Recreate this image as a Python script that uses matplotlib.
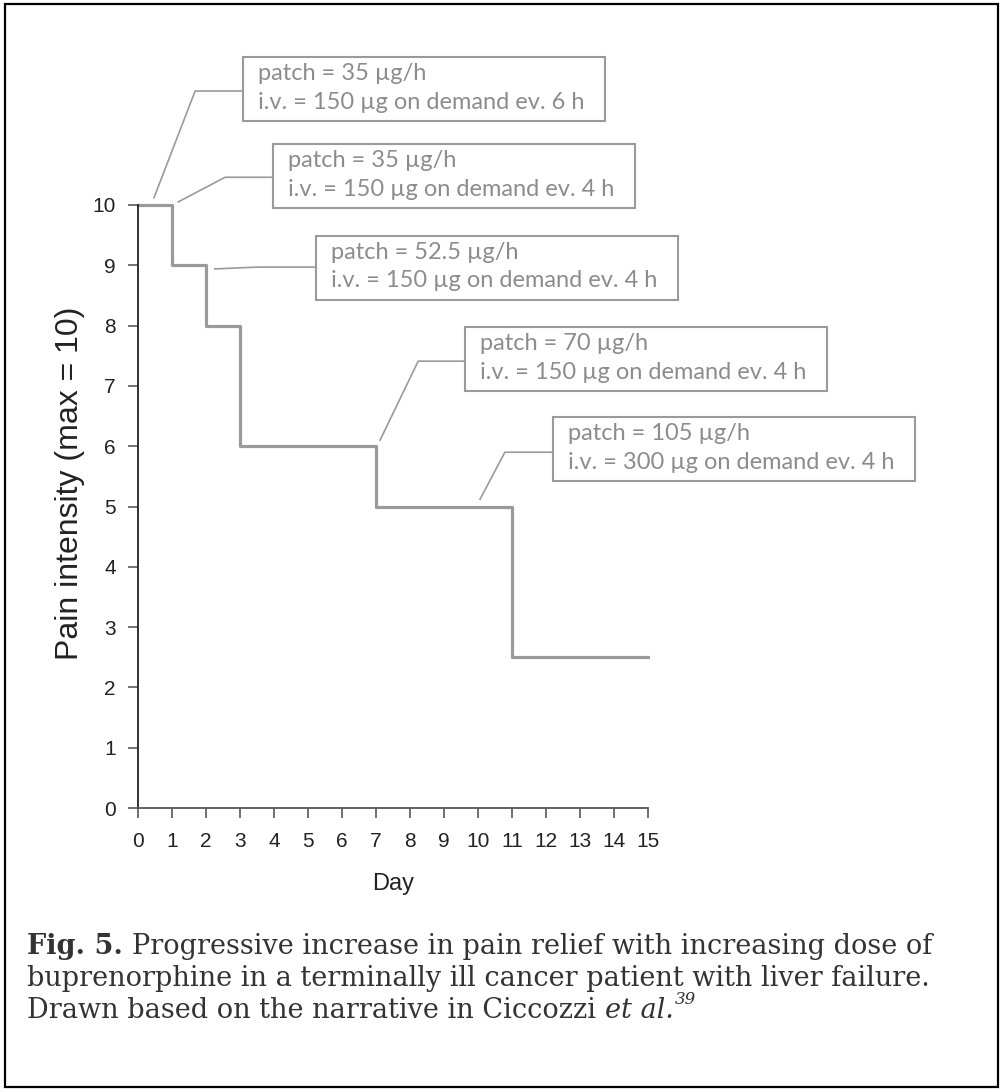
import matplotlib
matplotlib.use("Agg")
import matplotlib.pyplot as plt
from matplotlib.patches import Rectangle

# step data: pain score per day
days = [0, 1, 2, 3, 7, 11, 15]
pain = [10, 9, 8, 6, 5, 2.5, 2.5]

# dose notes, box corner (day, value) and leader line points
notes = [
    ["patch = 35 \u00b5g/h", "i.v. = 150 \u00b5g on demand ev. 6 h"],
    ["patch = 35 \u00b5g/h", "i.v. = 150 \u00b5g on demand ev. 4 h"],
    ["patch = 52.5 \u00b5g/h", "i.v. = 150 \u00b5g on demand ev. 4 h"],
    ["patch = 70 \u00b5g/h", "i.v. = 150 \u00b5g on demand ev. 4 h"],
    ["patch = 105 \u00b5g/h", "i.v. = 300 \u00b5g on demand ev. 4 h"],
]
box_x = [3.09, 3.97, 5.24, 9.62, 12.21]
box_top = [12.45, 11.01, 9.49, 7.98, 6.48]
leader_x = [[0.47, 1.68, 3.09], [1.18, 2.56, 3.97], [2.26, 3.5, 5.24],
            [7.12, 8.24, 9.62], [10.06, 10.79, 12.21]]
leader_y = [[10.12, 11.89, 11.89], [10.05, 10.46, 10.46], [8.94, 8.97, 8.97],
            [6.10, 7.41, 7.41], [5.12, 5.90, 5.90]]

W, H = 1002, 1091
fig = plt.figure(figsize=(W / 100, H / 100), dpi=100)

# outer frame
fig.add_artist(Rectangle((5 / W, 4 / H), 993 / W, 1083 / H, transform=fig.transFigure,
                         fill=False, edgecolor="black", linewidth=1.6))

ax = fig.add_axes([138 / W, 1 - 808 / H, 510 / W, 603 / H])
ax.step(days, pain, where="post", color="#9a9a9a", linewidth=2.3, clip_on=False)
ax.set_xlim(0, 15)
ax.set_ylim(0, 10)
ax.set_xticks(range(16))
ax.set_yticks(range(11))
for s in ["top", "right"]:
    ax.spines[s].set_visible(False)
ax.spines["left"].set_color("#222222")
ax.spines["bottom"].set_color("#555555")
ax.spines["left"].set_linewidth(1.3)
ax.spines["bottom"].set_linewidth(1.3)
ax.tick_params(length=7, width=1.3, color="#666666", labelsize=15, labelcolor="#222222")
ax.tick_params(axis="y", pad=9)
ax.tick_params(axis="x", pad=10)
for lab in ax.get_xticklabels() + ax.get_yticklabels():
    lab.set_fontfamily("Liberation Sans")
ax.set_xlabel("Day", fontsize=17, family="Liberation Sans", color="#222222", va="center")
ax.xaxis.set_label_coords(0.5, -(884 - 808) / 603)
ax.set_ylabel("Pain intensity (max = 10)", fontsize=23, family="Liberation Sans",
              color="#222222", va="center")
ax.yaxis.set_label_coords(-(138 - 70) / 510, (808 - 483) / 603)

bw, bh = 362 / 34, 64 / 60.3
for i in range(len(notes)):
    ax.plot(leader_x[i], leader_y[i], color="#9a9a9a", linewidth=1.2, clip_on=False)
    ax.add_patch(Rectangle((box_x[i], box_top[i] - bh), bw, bh, fill=False,
                           edgecolor="#9a9a9a", linewidth=1.5, clip_on=False))
    ax.text(box_x[i] + 0.44, box_top[i] - 0.27, notes[i][0], fontsize=17, family="Lato",
            color="#8c8c8c", va="center", clip_on=False)
    ax.text(box_x[i] + 0.44, box_top[i] - 0.75, notes[i][1], fontsize=17, family="Lato",
            color="#8c8c8c", va="center", clip_on=False)

# caption
cap = dict(fontsize=19.5, family="DejaVu Serif", color="#333333", va="center")
fig.text(27 / W, 1 - 947 / H, "Fig. 5.", weight="bold", **cap)
fig.canvas.draw()
x0 = fig.texts[-1].get_window_extent().x1 + 9
fig.text(x0 / W, 1 - 947 / H, "Progressive increase in pain relief with increasing dose of", **cap)
fig.text(27 / W, 1 - 979 / H, "buprenorphine in a terminally ill cancer patient with liver failure.", **cap)
t = fig.text(27 / W, 1 - 1011 / H, "Drawn based on the narrative in Ciccozzi ", **cap)
fig.canvas.draw()
bb = t.get_window_extent()
t2 = fig.text(bb.x1 / W, 1 - 1011 / H, "et al.", style="italic", **cap)
fig.canvas.draw()
bb2 = t2.get_window_extent()
fig.text(bb2.x1 / W + 1 / W, 1 - 1000 / H, "39", fontsize=12, family="DejaVu Serif",
         style="italic", color="#333333", va="center")

fig.savefig("out.png", dpi=100)
